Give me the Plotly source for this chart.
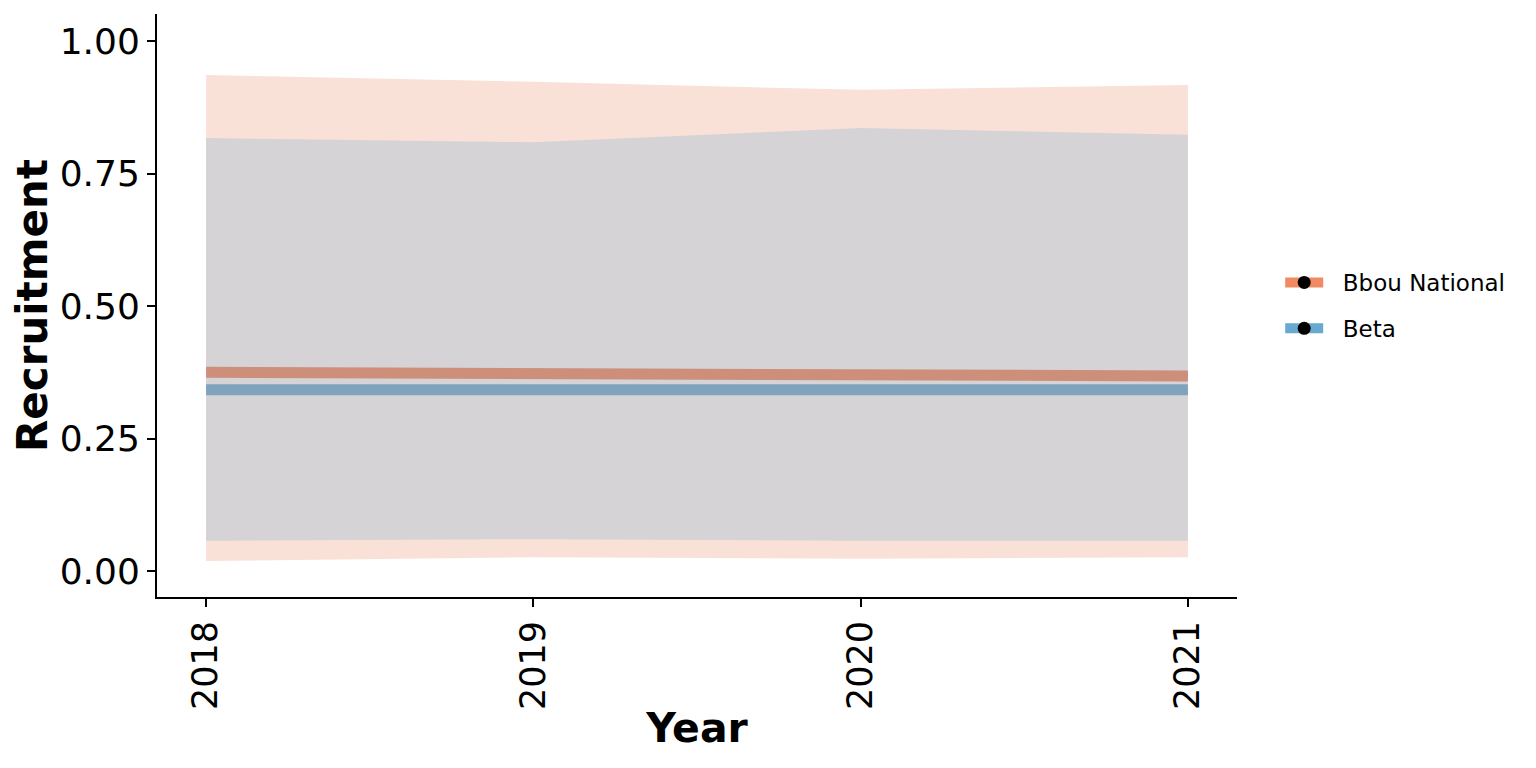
import plotly.graph_objects as go

years = [2018, 2019, 2020, 2021]

# Bbou National
bbou_mean = [0.375, 0.373, 0.368, 0.368]
bbou_lower = [0.019, 0.026, 0.023, 0.026]
bbou_upper = [0.936, 0.923, 0.908, 0.917]

# Beta
beta_mean = [0.342, 0.342, 0.345, 0.342]
beta_lower = [0.057, 0.060, 0.057, 0.057]
beta_upper = [0.817, 0.809, 0.836, 0.823]

series_names = ["Bbou National", "Beta"]

y_ticks = [0.0, 0.25, 0.5, 0.75, 1.0]
y_tick_labels = ["0.00", "0.25", "0.50", "0.75", "1.00"]

fig = go.Figure()

def band(lower, upper, color):
    fig.add_trace(go.Scatter(x=years, y=upper, mode="lines", line=dict(width=0),
                             showlegend=False, hoverinfo="skip"))
    fig.add_trace(go.Scatter(x=years, y=lower, mode="lines", line=dict(width=0),
                             fill="tonexty", fillcolor=color, showlegend=False, hoverinfo="skip"))

band(bbou_lower, bbou_upper, "#fae1d8")
band(beta_lower, beta_upper, "#d5d3d6")

fig.add_trace(go.Scatter(x=years, y=bbou_mean, mode="lines", name=series_names[0],
                         line=dict(color="#cd8e7a", width=11), showlegend=False))
fig.add_trace(go.Scatter(x=years, y=beta_mean, mode="lines", name=series_names[1],
                         line=dict(color="#7fa3bd", width=11), showlegend=False))

# legend entries
pad = "\u00a0\u00a0"
fig.add_trace(go.Scatter(x=[None], y=[None], mode="lines+markers", name=pad + series_names[0],
                         legendgroup="a",
                         line=dict(color="#ef8a62", width=10),
                         marker=dict(color="black", size=13)))
fig.add_trace(go.Scatter(x=[None], y=[None], mode="lines+markers", name=pad + series_names[1],
                         legendgroup="b",
                         line=dict(color="#67a9cf", width=10),
                         marker=dict(color="black", size=13)))

fig.update_layout(
    width=1536, height=768,
    margin=dict(l=149, r=307, t=6, b=179),
    plot_bgcolor="white", paper_bgcolor="white",
    font=dict(family="DejaVu Sans", color="black"),
    legend=dict(x=1.04, y=0.5, xanchor="left", yanchor="middle",
                font=dict(size=23), tracegroupgap=13, itemwidth=38),
    xaxis=dict(range=[2017.85, 2021.15], tickvals=years, ticktext=[str(y) for y in years],
               tickangle=-90, tickfont=dict(size=35),
               showline=True, linecolor="black", linewidth=2,
               ticks="outside", ticklen=8, tickwidth=2, tickcolor="black",
               showgrid=False, zeroline=False,
               title=dict(text="<b>Year</b>", font=dict(size=41), standoff=4)),
    yaxis=dict(range=[-0.049, 1.051], tickvals=y_ticks, ticktext=y_tick_labels,
               tickfont=dict(size=36),
               showline=True, linecolor="black", linewidth=2,
               ticks="outside", ticklen=8, tickwidth=2, tickcolor="black",
               showgrid=False, zeroline=False,
               title=dict(text="<b>Recruitment</b>", font=dict(size=42), standoff=10)),
)

fig.write_html("out.html")
